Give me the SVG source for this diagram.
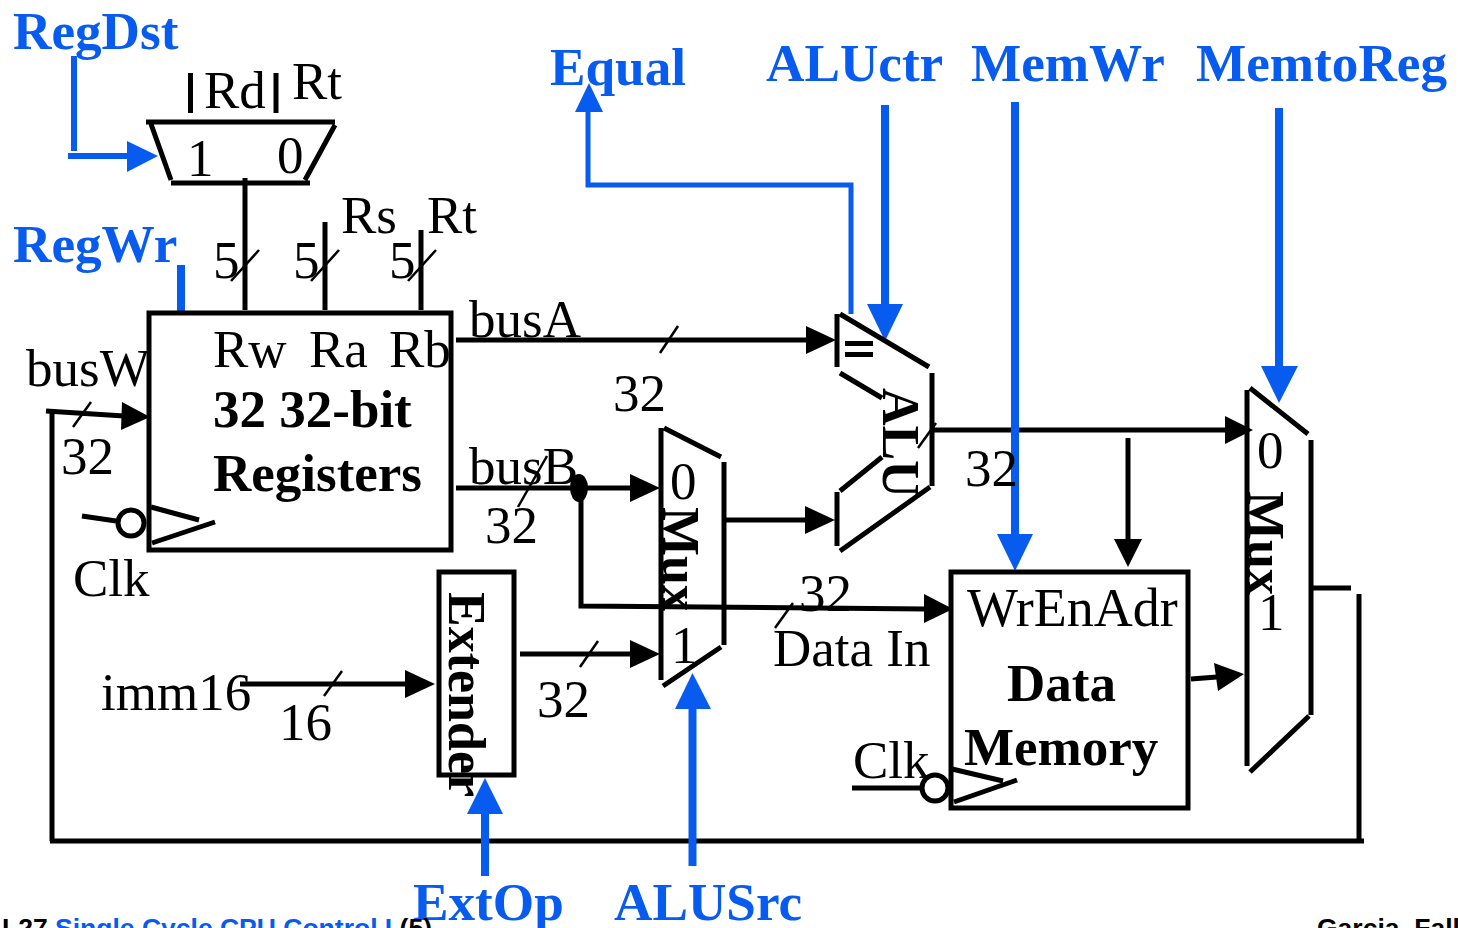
<svg xmlns="http://www.w3.org/2000/svg" width="1458" height="928" viewBox="0 0 1458 928">
<style>
text{font-family:"Liberation Serif","Times New Roman",serif;fill:#000}
.t{font-size:53px}
.b{font-size:53px;font-weight:700}
.r{font-size:52px;font-weight:700}
.c{font-size:53.2px;font-weight:700;fill:#085bef}
.f{font-family:"Liberation Sans",Arial,sans-serif;font-size:26.5px;font-weight:700}
.w{fill:none;stroke:#000;stroke-width:5}
.n{fill:none;stroke:#000;stroke-width:2.5}
.u{fill:none;stroke:#085bef;stroke-width:5}
.m{fill:none;stroke:#085bef;stroke-width:6}
.v{fill:none;stroke:#085bef;stroke-width:8}
.h{fill:#000}
.p{fill:#085bef}
</style>
<rect width="1458" height="928" fill="#fff"/>
<g id="connectors">
<path class="w" d="M190.500 73V113M276 73V113"/>
<path class="w" d="M245 178V310M325 222V310M421 230V310"/>
<path class="n" d="M231 281L259 250M311 281L339 250M408 281L436 250"/>
<path class="w" d="M456 340H810"/><path class="h" d="M806 326L836 340L806 354Z"/>
<path class="n" d="M660 353L678 326"/>
<path class="w" d="M456 488H632"/><path class="h" d="M630 474L660 488L630 502Z"/>
<path class="n" d="M518 507L547 456"/>
<ellipse class="h" cx="579" cy="488" rx="9" ry="14"/>
<path class="w" d="M581 488V606L926 609"/><path class="h" d="M924 594L953 609L924 623Z"/>
<path class="n" d="M775 628L793 603"/>
<path class="w" d="M726 520H808"/><path class="h" d="M805 506L835 520L805 534Z"/>
<path class="w" d="M520 654H632"/><path class="h" d="M630 640L660 654L630 668Z"/>
<path class="n" d="M580 667L598 641"/>
<path class="w" d="M240 684H408"/><path class="h" d="M405 670L435 684L405 698Z"/>
<path class="n" d="M324 696L342 671"/>
<path class="w" d="M933 430H1228"/><path class="h" d="M1225 416L1253 430L1225 444Z"/>
<path class="n" d="M918 448L936 423"/>
<path class="w" d="M1128 438V542"/><path class="h" d="M1114 539L1128 567L1142 539Z"/>
<path class="w" d="M1191 679L1217 677"/><path class="h" d="M1214 663L1244 674L1218 691Z"/>
<path class="w" d="M1313 588H1351M1359 594V841M1364 841H50M52 841V412"/>
<path class="w" d="M46 411L124 416"/><path class="h" d="M122 402L150 417L121 430Z"/>
<path class="n" d="M73 427L91 402"/>
<path class="w" d="M82 516L116 521"/>
<path class="w" d="M852 788H922"/>
<path class="u" d="M588 108V185H851V314"/><path class="p" d="M575 112L589 83L603 112Z"/>
<path class="m" d="M74 56V151M68 156H130"/><path class="p" d="M127 141L158 156L127 172Z"/>
<path class="v" d="M181 265V311"/>
<path class="v" d="M885 105V306"/><path class="p" d="M867 304H903L885 341Z"/>
<path class="v" d="M1015 102V536"/><path class="p" d="M997 534H1033L1015 571Z"/>
<path class="v" d="M1279 108V368"/><path class="p" d="M1261 366H1298L1279 403Z"/>
<path class="v" d="M692.500 708V866"/><path class="p" d="M675 709L692.500 673L711 709Z"/>
<path class="v" d="M485 812V876"/><path class="p" d="M467 814L485 778L503 814Z"/>
</g>
<g id="regdst-mux">
<path class="w" d="M146 122H335M151 124L171 180M335 125L305 180M171 183H310"/>
<text class="t" x="187" y="176">1</text><text class="t" x="277" y="173">0</text>
<text class="t" x="204" y="108">Rd</text><text class="t" x="292" y="99">Rt</text>
</g>
<g id="registers">
<rect class="w" x="149" y="313" width="302" height="237"/>
<path class="w" d="M151 507L199 520M152 543L215 522"/>
<circle cx="131" cy="523" r="13" fill="#fff" stroke="#000" stroke-width="5"/>
<text class="t" x="213" y="367">Rw</text><text class="t" x="309" y="367">Ra</text><text class="t" x="389" y="367">Rb</text>
<text class="b" x="213" y="427">32 32-bit</text>
<text class="b" x="213" y="491">Registers</text>
</g>
<g id="alu">
<path class="w" d="M837 314V367M840 314L929 367M932 373V486M930 487L840 551M837 492V546M840 373L882 398M840 491L882 457"/>
<path class="h" d="M845 341H873V346H845ZM845 352H873V357H845Z"/>
<text class="r" transform="translate(883 388) rotate(90)">ALU</text>
</g>
<g id="alusrc-mux">
<path class="w" d="M661 428V680M664 428L721 457M724 462V645M721 647L663 686"/>
<text class="t" x="670" y="499">0</text><text class="t" x="671" y="663">1</text>
<text class="r" transform="translate(663 507) rotate(90)">Mux</text>
</g>
<g id="extender">
<rect class="w" x="439" y="572" width="75" height="203"/>
<text class="r" transform="translate(449 592) rotate(90)">Extender</text>
</g>
<g id="data-memory">
<rect class="w" x="951" y="572" width="237" height="236"/>
<path class="w" d="M952 769L1003 781M954 802L1017 780"/>
<circle cx="935" cy="788" r="13" fill="#fff" stroke="#000" stroke-width="5"/>
<text class="t" style="font-size:54px" x="967" y="626">WrEnAdr</text>
<text class="b" x="1007" y="701">Data</text>
<text class="b" x="964" y="765">Memory</text>
</g>
<g id="memtoreg-mux">
<path class="w" d="M1247 390V766M1250 388L1308 434M1311 440V715M1309 716L1250 772"/>
<text class="t" x="1257" y="468">0</text><text class="t" x="1258" y="630">1</text>
<text class="r" transform="translate(1248 491) rotate(90)">Mux</text>
</g>
<g id="labels">
<text class="t" x="341" y="233">Rs</text><text class="t" x="427" y="233">Rt</text>
<text class="t" x="213" y="278">5</text><text class="t" x="293" y="278">5</text><text class="t" x="389" y="278">5</text>
<text class="t" x="469" y="337">busA</text><text class="t" x="469" y="484">busB</text>
<text class="t" x="26" y="386">busW</text><text class="t" x="61" y="474">32</text>
<text class="t" x="73" y="596">Clk</text><text class="t" x="613" y="411">32</text>
<text class="t" x="485" y="543">32</text><text class="t" x="799" y="611">32</text>
<text class="t" x="773" y="666">Data In</text><text class="t" x="965" y="486">32</text>
<text class="t" x="101" y="710">imm16</text><text class="t" x="279" y="740">16</text>
<text class="t" x="537" y="717">32</text><text class="t" x="853" y="778">Clk</text>
</g>
<g id="control-labels">
<text class="c" x="13" y="49">RegDst</text><text class="c" x="13" y="262">RegWr</text>
<text class="c" x="550" y="85">Equal</text><text class="c" x="766" y="81">ALUctr</text>
<text class="c" x="971" y="81">MemWr</text><text class="c" x="1196" y="81">MemtoReg</text>
<text class="c" x="413" y="920">ExtOp</text><text class="c" x="614" y="920">ALUSrc</text>
</g>
<g id="footer">
<text class="f" x="2" y="937">L27 <tspan fill="#085bef">Single Cycle CPU Control I</tspan> (5)</text>
<text class="f" x="1317" y="937">Garcia, Fall</text>
</g>
</svg>
